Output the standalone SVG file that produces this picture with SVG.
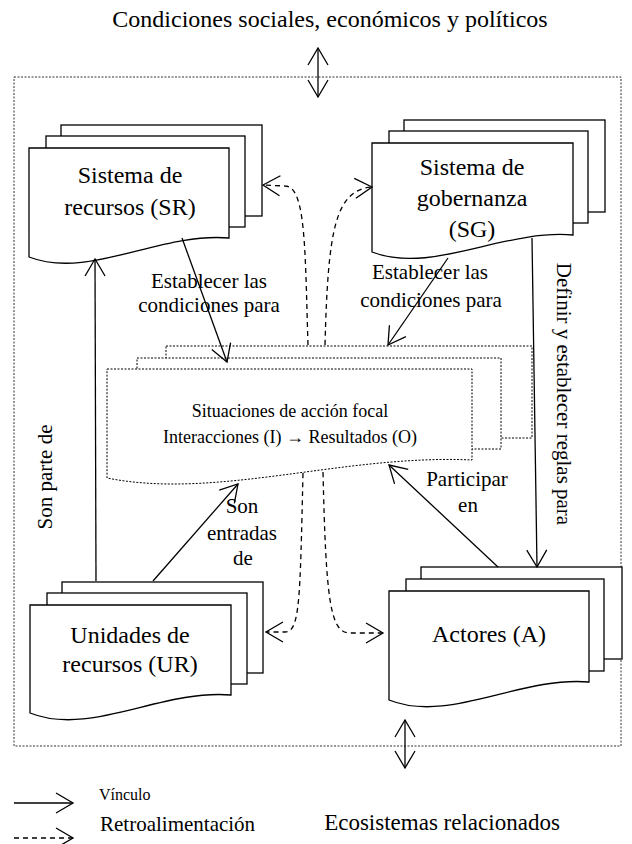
<svg xmlns="http://www.w3.org/2000/svg" width="632" height="844" viewBox="0 0 632 844" font-family="'Liberation Serif', 'Times New Roman', serif">
<style>
  text { fill: #000; text-anchor: middle; }
  .node { font-size: 24px; }
  .lbl { font-size: 21px; }
  .doc { fill: #fff; stroke: #000; stroke-width: 1.3; }
  .ddoc { fill: #fff; stroke: #000; stroke-width: 1; stroke-dasharray: 2 1.5; }
  .link { fill: none; stroke: #000; stroke-width: 1.3; marker-end: url(#ah); }
  .fb { fill: none; stroke: #000; stroke-width: 1.3; stroke-dasharray: 5 4; marker-end: url(#ah); }
  .dbl { fill: none; stroke: #000; stroke-width: 1.3; marker-end: url(#ah); marker-start: url(#ahs); }
  .start { text-anchor: start; }
</style>
<defs>
  <marker id="ah" markerUnits="userSpaceOnUse" orient="auto" overflow="visible" markerWidth="1" markerHeight="1">
    <path d="M-17,-10 L0,0 L-17,10" fill="none" stroke="#000" stroke-width="1.3"/>
  </marker>
  <marker id="ahs" markerUnits="userSpaceOnUse" orient="auto-start-reverse" overflow="visible" markerWidth="1" markerHeight="1">
    <path d="M-17,-10 L0,0 L-17,10" fill="none" stroke="#000" stroke-width="1.3"/>
  </marker>
</defs>

<rect width="632" height="844" fill="#fff"/>

<text x="330" y="27" font-size="24">Condiciones sociales, económicos y políticos</text>
<rect x="14" y="77" width="607" height="669" fill="none" stroke="#333" stroke-width="1" stroke-dasharray="2 1.5"/>

<g id="sr">
  <rect class="doc" x="61" y="125" width="201" height="91"/>
  <rect class="doc" x="46" y="136" width="199" height="91"/>
  <path class="doc" d="M29,148 H229 V238 C159,232 89,280 29,257 Z"/>
  <text class="node" x="130" y="183">Sistema de</text>
  <text class="node" x="130" y="215">recursos (SR)</text>
</g>

<g id="sg">
  <rect class="doc" x="404" y="120" width="201" height="92"/>
  <rect class="doc" x="389" y="131" width="199" height="92"/>
  <path class="doc" d="M372,143 H573 V235 C503,229 432,275 372,252 Z"/>
  <text class="node" x="472" y="175">Sistema de</text>
  <text class="node" x="472" y="206">gobernanza</text>
  <text class="node" x="472" y="237">(SG)</text>
</g>

<g id="focal">
  <rect class="ddoc" x="166" y="346" width="366" height="92"/>
  <rect class="ddoc" x="137" y="358" width="364" height="91"/>
  <path class="ddoc" d="M107,369 H472 V460 C344,454 217,500 107,478 Z"/>
  <text x="290" y="417" font-size="18">Situaciones de acción focal</text>
  <text x="290" y="443" font-size="18">Interacciones (I) → Resultados (O)</text>
</g>

<g id="ur">
  <rect class="doc" x="62" y="582" width="201" height="91"/>
  <rect class="doc" x="47" y="593" width="200" height="91"/>
  <path class="doc" d="M30,605 H231 V695 C161,689 90,737 30,713 Z"/>
  <text class="node" x="130" y="643">Unidades de</text>
  <text class="node" x="130" y="672">recursos (UR)</text>
</g>

<g id="actores">
  <rect class="doc" x="421" y="567" width="201" height="92"/>
  <rect class="doc" x="406" y="579" width="198" height="92"/>
  <path class="doc" d="M389,591 H589 V682 C519,676 449,724 389,700 Z"/>
  <text class="node" x="489" y="642">Actores (A)</text>
</g>

<g id="connectors">
  <path class="link" d="M96,581 L95,259"/>
  <path class="link" d="M182,238 L227,362"/>
  <path class="link" d="M448,258 L388,345"/>
  <path class="link" d="M532,238 L537,567"/>
  <path class="link" d="M498,567 L389,465"/>
  <path class="link" d="M153,581 L238,484"/>
  <path class="fb" d="M308,345 C305,250 306,186 285,186 L263,185"/>
  <path class="fb" d="M325,345 C328,230 335,190 372,187"/>
  <path class="fb" d="M303,473 C300,600 300,632 285,632 L266,632"/>
  <path class="fb" d="M323,472 C326,600 330,633 350,633 L383,633"/>
  <path class="dbl" d="M318,48 L318,97"/>
  <path class="dbl" d="M405,720 L405,768"/>
</g>

<g id="labels">
  <text class="lbl" x="209" y="288">Establecer las</text>
  <text class="lbl" x="209" y="312">condiciones para</text>
  <text class="lbl" x="430" y="279">Establecer las</text>
  <text class="lbl" x="431" y="307">condiciones para</text>
  <text class="lbl" x="467" y="486">Participar</text>
  <text class="lbl" x="468" y="512">en</text>
  <text class="lbl" x="242" y="513">Son</text>
  <text class="lbl" x="242" y="540">entradas</text>
  <text class="lbl" x="243" y="565">de</text>
  <text class="lbl" transform="translate(52,477) rotate(-90)">Son parte de</text>
  <text class="lbl" transform="translate(557,394) rotate(90)">Definir y establecer reglas para</text>
</g>

<g id="legend">
  <path class="link" d="M14,803 L73,803"/>
  <path class="fb" d="M14,838 L73,838"/>
  <text class="start" x="99" y="800" font-size="16">Vínculo</text>
  <text class="start" x="100" y="831" font-size="21">Retroalimentación</text>
  <text x="442" y="830" font-size="23">Ecosistemas relacionados</text>
</g>
</svg>
